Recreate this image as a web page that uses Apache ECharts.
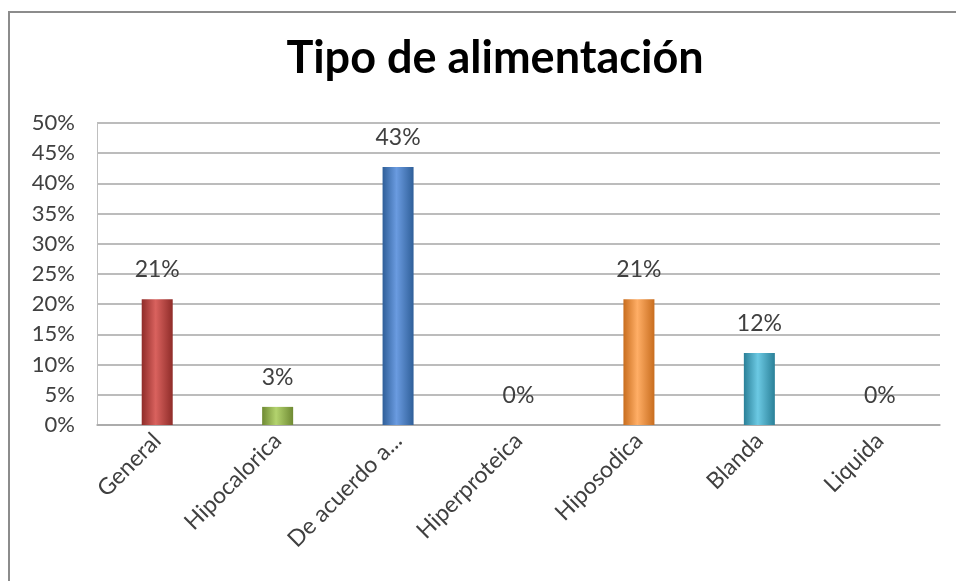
<!DOCTYPE html>
<html>
<head>
<meta charset="utf-8">
<script src="https://cdn.jsdelivr.net/npm/echarts@6/dist/echarts.min.js"></script>
<style>
  html, body { margin: 0; padding: 0; background: #fff; }
  #box { width: 956px; height: 581px; }
</style>
</head>
<body>
<div id="box"></div>
<script>
// categorias y valores (%)
const categories = ["General", "Hipocalorica", "De acuerdo a...", "Hiperproteica", "Hiposodica", "Blanda", "Liquida"];
const values = [20.8, 3.0, 42.7, 0, 20.8, 11.9, 0];
const yTicks = [0, 5, 10, 15, 20, 25, 30, 35, 40, 45, 50];

const barColors = [
  ["#8f2c29", "#d9625e"],
  ["#6f8a33", "#b3d36e"],
  ["#2f5f99", "#6a9be0"],
  ["#5b447f", "#9a80c0"],
  ["#c86d1e", "#ffae66"],
  ["#2a8098", "#6cc9e3"],
  ["#1f3a5f", "#4a6fa0"]
];

const font = "Lato, 'Open Sans', sans-serif";

let myChart = echarts.init(document.getElementById("box"));

let option = {
  backgroundColor: "#fff",
  animation: false,
  title: {
    text: "Tipo de alimentación",
    left: 490,
    textAlign: "center",
    top: 31,
    textStyle: {
      fontFamily: font,
      fontSize: 45,
      fontWeight: "bold",
      color: "#000"
    }
  },
  graphic: [
    {
      type: "polyline",
      shape: { points: [[9, 590], [9, 12], [970, 12]] },
      style: { stroke: "#8c8c8c", lineWidth: 2, fill: null },
      silent: true
    }
  ],
  grid: {
    left: 97,
    right: 16,
    top: 123,
    bottom: 156
  },
  xAxis: {
    type: "category",
    data: categories,
    axisLine: { lineStyle: { color: "#a6a6a6", width: 1.5 } },
    axisTick: { show: false },
    axisLabel: {
      rotate: 45,
      margin: 12,
      interval: 0,
      fontFamily: font,
      fontSize: 23,
      color: "#404040"
    }
  },
  yAxis: {
    type: "value",
    min: 0,
    max: 50,
    interval: 5,
    axisLine: { show: true, lineStyle: { color: "#bfbfbf" } },
    axisTick: { show: false },
    splitLine: { lineStyle: { color: "#a6a6a6", width: 1.5 } },
    axisLabel: {
      margin: 22,
      fontFamily: font,
      fontSize: 22,
      color: "#404040",
      formatter: function (v) {
        return yTicks.indexOf(v) >= 0 ? v + "%" : "";
      }
    }
  },
  series: [
    {
      type: "bar",
      barWidth: 31,
      data: values.map(function (v, i) {
        return {
          value: v,
          itemStyle: {
            color: new echarts.graphic.LinearGradient(0, 0, 1, 0, [
              { offset: 0, color: barColors[i][0] },
              { offset: 0.45, color: barColors[i][1] },
              { offset: 1, color: barColors[i][0] }
            ])
          }
        };
      }),
      label: {
        show: true,
        position: "top",
        distance: 18,
        fontFamily: font,
        fontSize: 23,
        color: "#404040",
        formatter: function (p) {
          return Math.round(p.value) + "%";
        }
      }
    }
  ]
};

myChart.setOption(option);
</script>
</body>
</html>
